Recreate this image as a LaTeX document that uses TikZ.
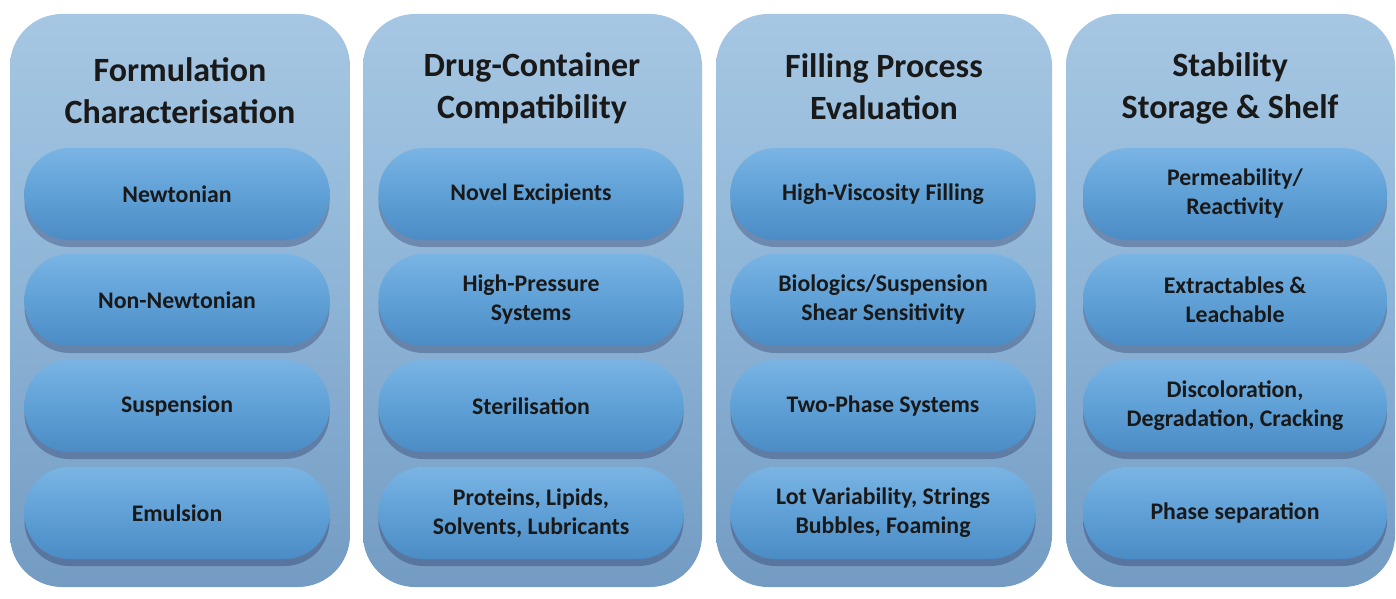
\documentclass[tikz,border=0pt]{standalone}
\usepackage{fontspec}
\setmainfont{Carlito}
\usepackage{xcolor}
\usepackage{tikz}
\usetikzlibrary{shapes,positioning,calc,shadows}

\definecolor{panelTop}{RGB}{166,199,227}
\definecolor{panelMid}{RGB}{141,180,214}
\definecolor{panelBot}{RGB}{116,155,194}
\definecolor{pillTop}{RGB}{122,180,228}
\definecolor{pillMid}{RGB}{95,160,214}
\definecolor{pillBot}{RGB}{76,140,198}

\tikzset{
  panel/.style={rectangle, rounded corners=52pt, minimum width=#1, minimum height=573pt,
    top color=panelTop, bottom color=panelBot, middle color=panelMid},
  heading/.style={align=center, text=black!90, font=\fontsize{34}{42}\selectfont\bfseries},
  pill/.style={rectangle, rounded corners=45pt, minimum width=305pt, minimum height=92pt,
    top color=pillTop, bottom color=pillBot, middle color=pillMid,
    drop shadow={shadow xshift=0pt, shadow yshift=-7pt, opacity=0.25, fill=black!80!blue},
    align=center, text=black!90, font=\fontsize{23.8}{29}\selectfont\bfseries}
}

\begin{document}
\begin{tikzpicture}[x=1pt,y=-1pt]
\useasboundingbox (0,0) rectangle (1396,599);

% columns
\node[panel=340pt] (panA) at (180,300.5) {};
\node[panel=339pt] (panB) at (532.5,300.5) {};
\node[panel=336pt] (panC) at (884,300.5) {};
\node[panel=329pt] (panD) at (1230.5,300.5) {};

% headings
\node[heading] (headA) at (180,91) {Formulation\\Characterisation};
\node[heading] (headB) at (532,88) {Drug-Container\\Compatibility};
\node[heading] (headC) at (884,87) {Filling Process\\Evaluation};
\node[heading] (headD) at (1230,88) {Stability\\Storage \& Shelf};

% formulation
\node[pill] (newton) at (177,194) {Newtonian};
\node[pill] (nonnewton) at (177,300) {Non-Newtonian};
\node[pill] (susp) at (177,406) {Suspension};
\node[pill] (emul) at (177,513) {Emulsion};

% drug-container
\node[pill] (excip) at (531,194) {Novel Excipients};
\node[pill] (pressure) at (531,300) {High-Pressure\\Systems};
\node[pill] (steril) at (531,406) {Sterilisation};
\node[pill] (proteins) at (531,513) {Proteins, Lipids,\\Solvents, Lubricants};

% filling process
\node[pill] (viscous) at (883,194) {High-Viscosity Filling};
\node[pill] (shear) at (883,300) {Biologics/Suspension\\Shear Sensitivity};
\node[pill] (twophase) at (883,406) {Two-Phase Systems};
\node[pill] (lotvar) at (883,513) {Lot Variability, Strings\\Bubbles, Foaming};

% stability
\node[pill, minimum width=304pt] (perm) at (1235,194) {Permeability/\\Reactivity};
\node[pill, minimum width=304pt] (extract) at (1235,300) {Extractables \&\\Leachable};
\node[pill, minimum width=304pt] (discol) at (1235,406) {Discoloration,\\Degradation, Cracking};
\node[pill, minimum width=304pt] (phase) at (1235,513) {Phase separation};
\end{tikzpicture}
\end{document}
